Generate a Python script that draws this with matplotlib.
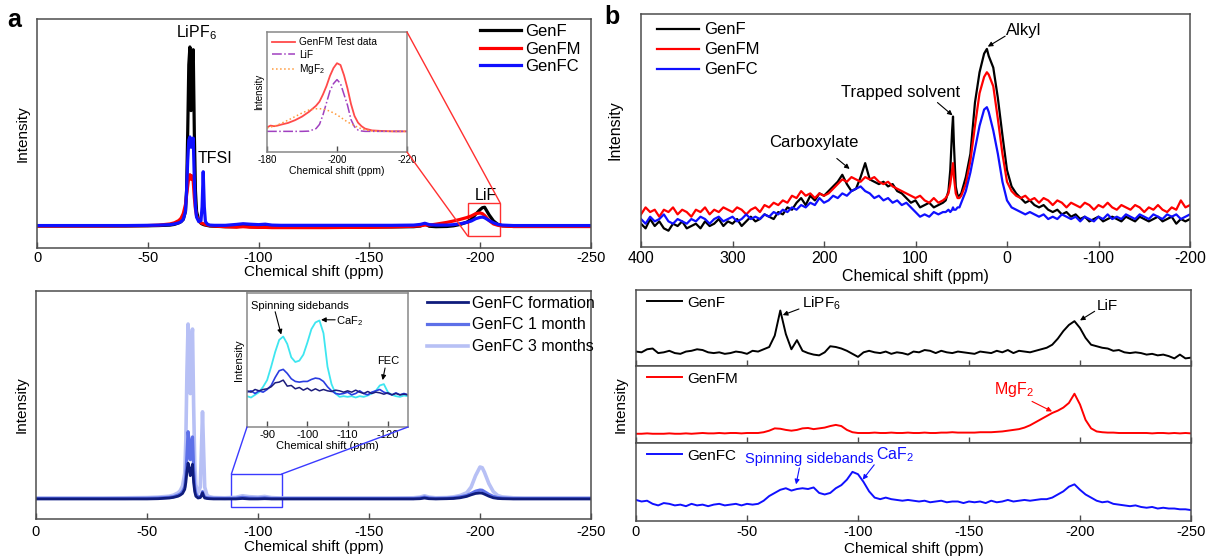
import matplotlib.pyplot as plt
import numpy as np
from matplotlib.patches import Rectangle, ConnectionPatch

plt.rcParams['font.family'] = ['Liberation Sans', 'DejaVu Sans']
plt.rcParams['mathtext.default'] = 'regular'

frame = '#4d4d4d'
red = '#ff0000'
blue = '#1010ff'

# ---------------- panel a, top: 19F spectra (intensity in % of axis height)
shift_a = [0, -10, -20, -30, -40, -50, -55, -60, -62, -64,
           -65, -66, -67, -67.5, -68, -68.5, -69, -69.5, -70, -70.5,
           -71, -71.5, -72, -73, -74, -74.5, -75, -75.5, -76, -77,
           -78, -80, -85, -90, -93, -96, -100, -103, -106, -110,
           -120, -130, -140, -150, -160, -170, -173, -175, -177, -180,
           -185, -188, -191, -194, -196, -198, -200, -201, -202, -204,
           -206, -208, -210, -215, -220, -230, -240, -250]
genf_a = [9.6, 9.6, 9.6, 9.6, 9.6, 9.7, 9.8, 10, 10.3, 11,
          11.5, 12.5, 16, 25, 50, 80, 87.8, 60, 80, 86.6,
          50, 25, 16, 12, 10.8, 10.5, 10.3, 10.1, 10, 9.8,
          9.6, 9.5, 9.3, 9.3, 9.6, 9.3, 9.2, 9.3, 9.2, 9.2,
          9.2, 9.2, 9.2, 9.2, 9.2, 9.3, 9.6, 10.6, 9.5, 9.3,
          9.4, 9.7, 10.3, 11.3, 12.5, 14.8, 16.8, 17.6, 17.8, 14.5,
          11.8, 10.3, 9.7, 9.4, 9.4, 9.4, 9.4, 9.4]
genfm_a = [9.6, 9.6, 9.6, 9.6, 9.7, 9.8, 10, 10.5, 11, 12,
           13, 15, 19, 23, 27, 31, 32, 30, 31.5, 29,
           22, 17, 14, 12, 11, 10.8, 10.6, 10.4, 10.2, 10,
           9.8, 9.6, 9.3, 9.1, 9.3, 9.1, 9.0, 9.0, 8.9, 8.9,
           8.9, 8.9, 9.0, 9.0, 9.2, 9.5, 9.7, 10.0, 10.0, 10.4,
           11.2, 11.8, 12.5, 13.3, 14.0, 15.0, 15.3, 15.0, 14.2, 12.0,
           10.5, 9.9, 9.6, 9.4, 9.4, 9.4, 9.4, 9.4]
genfc_a = [9.8, 9.8, 9.8, 9.8, 9.8, 9.9, 10, 10.2, 10.5, 11,
           11.5, 12.5, 16, 25, 38, 47, 48.5, 44, 46, 48,
           30, 18, 13.5, 11.5, 12, 18, 33.3, 18, 11.5, 10.3,
           10, 9.9, 9.9, 10.3, 10.6, 10.4, 10.2, 10.4, 10.0, 9.9,
           9.9, 9.9, 9.9, 9.9, 9.9, 10.0, 10.3, 10.8, 10.2, 10.0,
           10.0, 10.2, 10.6, 11.2, 11.8, 12.8, 13.4, 13.5, 13.2, 12.0,
           11.0, 10.3, 10.0, 9.8, 9.8, 9.8, 9.8, 9.8]

# inset: fit of the GenFM LiF region
shift_fit = [-180, -181, -182, -183, -184, -186, -188, -190, -192, -194,
             -195, -196, -197, -198, -199, -200, -201, -202, -203, -204,
             -205, -206, -207, -208, -210, -213, -216, -220]
test_fit = [20.5, 22, 21.5, 22, 22.8, 24.2, 26.5, 29.5, 33.5, 38.5,
            42, 48, 55, 63.5, 70, 74, 72.5, 64, 53, 40,
            30, 24.5, 21.5, 19.5, 18, 17.5, 17.2, 17.2]
lif_fit = [17.2, 17.2, 17.2, 17.2, 17.2, 17.2, 17.2, 17.2, 17.4, 19.5,
           23, 31, 41, 51, 57, 60.3, 57, 48, 39, 27,
           21, 18.3, 17.5, 17.2, 17.2, 17.2, 17.2, 17.2]
mgf_fit = [20, 20.8, 21.5, 22.5, 23.8, 26.5, 29.5, 32.5, 35, 36,
           36.1, 35.8, 35, 34, 32.5, 31, 29, 27, 25, 23.5,
           22, 20.5, 19.3, 18.5, 17.5, 17.2, 17.2, 17.2]

# ---------------- panel a, bottom: GenFC ageing
form_c = [8.8, 8.8, 8.8, 8.8, 8.8, 8.8, 8.9, 9.2, 9.5, 10,
          10.5, 11.2, 13, 16, 21, 24.5, 22, 19, 22, 24,
          16, 12, 10, 9.2, 9.4, 10.2, 11.5, 10, 9.2, 9,
          8.9, 8.8, 8.8, 8.8, 9.0, 8.8, 8.8, 8.9, 8.8, 8.8,
          8.8, 8.8, 8.8, 8.8, 8.8, 8.8, 8.9, 9.2, 8.9, 8.8,
          8.9, 9.0, 9.3, 9.9, 10.6, 11.2, 11.4, 11.3, 10.9, 10.0,
          9.3, 9.0, 8.9, 8.8, 8.8, 8.8, 8.8, 8.8]
month1_c = [9.0, 9.0, 9.0, 9.0, 9.0, 9.1, 9.2, 9.5, 9.8, 10.5,
            11, 12, 14, 19, 28, 38.3, 34, 26, 33, 36,
            22, 14, 11, 9.8, 9.8, 10.5, 12, 10.5, 9.6, 9.3,
            9.2, 9.1, 9.0, 9.1, 9.5, 9.2, 9.1, 9.3, 9.0, 9.0,
            9.0, 9.0, 9.0, 9.0, 9.0, 9.0, 9.2, 9.6, 9.2, 9.0,
            9.1, 9.3, 9.7, 10.3, 11.2, 12.2, 12.7, 12.6, 12.0, 10.8,
            9.9, 9.4, 9.2, 9.0, 9.0, 9.0, 9.0, 9.0]
month3_c = [9.2, 9.2, 9.2, 9.2, 9.3, 9.4, 9.6, 10, 10.5, 11.5,
            12.5, 14.5, 20, 35, 65, 85.5, 75, 55, 78, 83.3,
            50, 25, 15, 11.5, 14, 30, 47, 30, 14, 10.5,
            9.8, 9.4, 9.3, 9.5, 10.2, 9.8, 9.6, 9.9, 9.4, 9.2,
            9.2, 9.2, 9.2, 9.2, 9.2, 9.3, 9.6, 10.2, 9.6, 9.3,
            9.4, 9.7, 10.3, 11.5, 14, 19, 22.8, 22.5, 20.5, 15.5,
            12, 10.3, 9.7, 9.3, 9.2, 9.2, 9.2, 9.2]

# inset: -85 ... -125 ppm zoom
shift_zoom = list(range(-85, -126, -1))
zoom_3m = [23, 22, 24, 26, 30, 35, 45, 56, 65, 67.5,
           62, 52, 48.5, 49.5, 54, 63, 73, 78, 79.5, 70,
           45, 32, 25, 22.5, 23, 22.5, 23, 22, 23, 22.5,
           23.5, 25, 27, 31, 32, 26, 24, 23, 22.5, 23.5,
           23]
zoom_1m = [26, 27, 25, 27, 26, 28, 31, 37, 42, 43,
           40, 36, 34, 33.5, 34, 34, 35.5, 36.5, 36, 34,
           30, 27, 25, 24.5, 25, 26, 24, 25, 27, 25,
           24, 26, 27, 28, 26, 25, 24, 25.5, 24, 25,
           24]
zoom_form = [27, 26, 28, 27, 28, 28.5, 30, 33, 33.5, 35,
             30.5, 31, 28.5, 29.5, 27.5, 29, 27, 28.5, 27, 28,
             27, 26.5, 27.5, 27, 26, 27, 26, 27.5, 26, 25,
             26.5, 25, 26, 25.5, 24.5, 25.5, 24, 25, 24, 24.5,
             24]

# ---------------- panel b, top: 13C spectra
shift_b = (list(range(400, 69, -5)) + [67, 64, 62, 60, 59, 58, 56, 54, 52]
           + [50, 45, 40, 35, 30, 25, 22] + list(range(20, -201, -5)))
genf_b = [10, 8, 12, 9, 11, 8, 7, 10, 9, 11,
          8, 9, 10, 8, 11, 9, 10, 12, 9, 11,
          10, 12, 9, 11, 13, 11, 12, 14, 13, 12,
          15, 14, 17, 16, 19, 21, 18, 22, 20, 23,
          22, 24, 26, 28, 31, 27, 24, 25, 30, 36,
          29, 28, 27, 28, 26, 27, 24, 23, 21, 19,
          20, 17, 18, 19, 17, 18, 19,
          20, 24, 33, 50, 56, 44, 26, 22, 22,
          23, 30, 40, 62, 75, 83, 85,
          82, 77, 64, 48, 33, 26, 23, 21, 19, 20,
          18, 17, 18, 16, 15, 16, 14, 15, 13, 14,
          12, 13, 11, 12, 13, 11, 12, 13, 12, 11,
          13, 12, 11, 13, 12, 11, 12, 13, 11, 12,
          13, 10, 12, 11, 12]
genfm_b = [14, 17, 15, 16, 13, 16, 15, 17, 14, 16,
           15, 13, 16, 15, 17, 14, 16, 15, 17, 16,
           15, 17, 16, 14, 16, 17, 15, 18, 17, 19,
           18, 20, 19, 22, 21, 24, 22, 23, 21, 23,
           22, 23, 25, 27, 29, 28, 30, 29, 28, 30,
           29, 30, 28, 27, 28, 26, 25, 24, 23, 22,
           21, 22, 20, 19, 21, 19, 20,
           21, 23, 27, 33, 36, 30, 23, 21, 21,
           22, 27, 37, 52, 66, 73, 75,
           74, 69, 55, 40, 28, 24, 22, 21, 22, 20,
           21, 19, 21, 20, 18, 20, 19, 17, 19, 18,
           17, 19, 18, 16, 18, 17, 19, 17, 16, 18,
           17, 16, 18, 17, 15, 17, 16, 18, 16, 15,
           17, 16, 20, 17, 18]
genfc_b = [12, 10, 13, 11, 12, 14, 11, 10, 12, 11,
           10, 12, 11, 13, 12, 10, 12, 13, 11, 12,
           13, 11, 12, 14, 12, 13, 12, 14, 13, 15,
           14, 16, 15, 17, 16, 18, 17, 19, 18, 21,
           19, 20, 22, 21, 23, 22, 24, 25, 26, 24,
           23, 21, 22, 20, 21, 19, 20, 18, 19, 17,
           15, 13, 14, 13, 15, 14, 15,
           15, 16, 15, 16, 17, 16, 16, 17, 17,
           19, 24, 32, 42, 52, 59, 60,
           58, 50, 40, 28, 20, 17, 16, 15, 14, 15,
           14, 13, 14, 12, 13, 12, 14, 13, 12, 13,
           11, 13, 12, 11, 13, 12, 14, 12, 13, 12,
           14, 13, 12, 14, 13, 12, 14, 13, 12, 14,
           13, 14, 12, 13, 14]

# ---------------- panel b, bottom: stacked 19F spectra (0 ... -250 ppm, 2.5 ppm step)
shift_d = np.arange(0, -250.1, -2.5)
genf_d = [19, 18, 22, 23, 17, 18, 20, 17, 16, 19,
          20, 22, 21, 18, 17, 18, 16, 17, 19, 18,
          16, 20, 19, 22, 25, 40, 73, 42, 22, 34,
          20, 17, 15, 14, 18, 26, 25, 23, 20, 16,
          12, 18, 20, 18, 17, 19, 16, 18, 17, 15,
          19, 18, 21, 20, 17, 20, 18, 17, 19, 18,
          17, 16, 19, 18, 17, 20, 18, 21, 17, 20,
          19, 18, 20, 22, 24, 28, 36, 46, 54, 59,
          50, 37, 28, 26, 24, 23, 20, 21, 18, 17,
          18, 17, 15, 16, 14, 15, 13, 10, 15, 10,
          11]
genfm_d = [12, 12, 12.5, 12, 12, 12, 12.5, 12, 12, 12.5,
           12, 12.5, 13, 12.5, 12.5, 13, 12.5, 13, 13, 12.5,
           13, 13, 13, 14, 16, 19, 18.5, 17, 16, 17,
           19, 19.5, 18, 19, 20, 22, 23.5, 22, 17, 14,
           13, 13, 13, 13.5, 13, 13, 13.5, 13, 13, 13.5,
           13, 13, 13.5, 13, 13, 13.5, 13.5, 14, 13.5, 13.5,
           13.5, 13.5, 14, 14, 14, 14.5, 15, 16, 17, 18,
           20, 23, 27, 31, 35, 39, 42, 46, 52, 64,
           50, 30, 19, 15, 14, 13.5, 13.5, 13, 13, 13,
           13, 13, 13, 12.5, 13, 13, 12.5, 13, 12.5, 13,
           12.5]
genfc_d = [27, 25, 26, 22, 20, 23, 22, 20, 21, 19,
           22, 20, 21, 19, 21, 22, 20, 21, 22, 20,
           22, 21, 22, 26, 32, 36, 40, 42, 39, 41,
           42, 41, 43, 36, 34, 36, 42, 46, 53, 63,
           60, 50, 38, 30, 28, 30, 28, 27, 26, 27,
           26, 25, 26, 24, 25, 26, 24, 25, 25, 23,
           25, 24, 25, 23, 26, 24, 25, 27, 25, 26,
           27, 26, 27, 28, 28, 30, 34, 38, 44, 47,
           40, 34, 30, 26, 24, 25, 22, 21, 20, 19,
           20, 18, 17, 18, 16, 17, 16, 16, 15, 15,
           14]

W, H = 1207, 558
fig = plt.figure(figsize=(W / 100, H / 100), dpi=100)


def box(l, t, r, b):
    return [l / W, 1 - b / H, (r - l) / W, (b - t) / H]


def style(ax, lim, ticks, labels=True, size=10.5, pad=2.5):
    ax.set_xlim(*lim)
    ax.set_ylim(0, 1)
    ax.set_xticks(ticks)
    ax.set_xticklabels([str(t) for t in ticks] if labels else [])
    ax.set_yticks([])
    ax.tick_params(axis='x', direction='in', length=4, width=1, color=frame,
                   labelsize=size, pad=pad)
    for s in ax.spines.values():
        s.set_color(frame)
        s.set_linewidth(1.1)


def pct(v):
    return np.array(v) / 100.0


def arrow(ax, tail, head, color='black'):
    ax.annotate('', xy=head, xytext=tail,
                arrowprops=dict(arrowstyle='-|>', color=color, lw=0.8,
                                mutation_scale=7, shrinkA=0, shrinkB=0))


ticks_a = [0, -50, -100, -150, -200, -250]

# ===== a top
ax1 = fig.add_axes(box(37, 19, 591, 248))
ax1.plot(shift_a, pct(genf_a), color='black', lw=2.3, label='GenF')
ax1.plot(shift_a, pct(genfm_a), color=red, lw=2.3, label='GenFM')
ax1.plot(shift_a, pct(genfc_a), color=blue, lw=2.3, label='GenFC')
style(ax1, (0, -250), ticks_a, size=10.5, pad=2)
ax1.set_xlabel('Chemical shift (ppm)', fontsize=11, labelpad=0)
ax1.set_ylabel('Intensity', fontsize=11, labelpad=5)
ax1.legend(loc='upper left', bbox_to_anchor=(0.79, 1.0), frameon=False,
           fontsize=12, handlelength=2.5, handletextpad=0.25,
           labelspacing=0.15, borderaxespad=0, borderpad=0.3)
ax1.text(-71.8, 0.94, 'LiPF$_6$', fontsize=11.5, ha='center', va='center')
ax1.text(-80.2, 0.39, 'TFSI', fontsize=11.5, ha='center', va='center')
ax1.text(-202.4, 0.23, 'LiF', fontsize=11.5, ha='center', va='center')
ax1.add_patch(Rectangle((-194.4, 0.052), -14.6, 0.145, fill=False,
                        ec='#ff3030', lw=1))

ins1 = fig.add_axes(box(267, 32, 407, 152))
ins1.plot(shift_fit, pct(test_fit), color='#ff4a4a', lw=1.3, label='GenFM Test data')
ins1.plot(shift_fit, pct(lif_fit), color='#a040c0', lw=1.1, ls='-.', label='LiF')
ins1.plot(shift_fit, pct(mgf_fit), color='#ff9a3c', lw=1.1, ls=':', label='MgF$_2$')
style(ins1, (-180, -220), [-180, -200, -220], size=7, pad=2)
for s in ins1.spines.values():
    s.set_color('#888888')
ins1.set_xlabel('Chemical shift (ppm)', fontsize=7.5, labelpad=1)
ins1.set_ylabel('Intensity', fontsize=7, labelpad=2)
ins1.legend(loc='upper left', bbox_to_anchor=(0.0, 1.0), frameon=False,
            fontsize=7.3, handlelength=2.3, handletextpad=0.4,
            labelspacing=0.25, borderaxespad=0.2, borderpad=0.3)

for xa, xb in [((1, 1), (-209, 0.197)), ((1, 0), (-194.4, 0.052))]:
    fig.add_artist(ConnectionPatch(xyA=xa, coordsA=ins1.transAxes,
                                   xyB=xb, coordsB=ax1.transData,
                                   color='#ff3030', lw=1))

# ===== a bottom
c_form, c_1m, c_3m = '#0f1c7c', '#5d70e8', '#b7c0f5'
ax2 = fig.add_axes(box(36, 291, 591, 519))
l3, = ax2.plot(shift_a, pct(month3_c), color=c_3m, lw=2.6, label='GenFC 3 months')
l2, = ax2.plot(shift_a, pct(month1_c), color=c_1m, lw=2.3, label='GenFC 1 month')
l1, = ax2.plot(shift_a, pct(form_c), color=c_form, lw=2.0, label='GenFC formation')
style(ax2, (0, -250), ticks_a, size=10.5, pad=4)
ax2.set_xlabel('Chemical shift (ppm)', fontsize=11, labelpad=1)
ax2.set_ylabel('Intensity', fontsize=11, labelpad=5)
ax2.legend(handles=[l1, l2, l3], loc='upper left', bbox_to_anchor=(0.695, 1.0),
           frameon=False, fontsize=11.5, handlelength=2.6, handletextpad=0.25,
           labelspacing=0.42, borderaxespad=0, borderpad=0.3)
ax2.add_patch(Rectangle((-88, 0.053), -22.6, 0.144, fill=False,
                        ec='#3a3aff', lw=1))

ins2 = fig.add_axes(box(247, 293, 408, 427))
ins2.plot(shift_zoom, pct(zoom_3m), color='#3ee6f0', lw=1.3)
ins2.plot(shift_zoom, pct(zoom_1m), color='#2a3de0', lw=1.2)
ins2.plot(shift_zoom, pct(zoom_form), color='#1c1c7c', lw=1.1)
style(ins2, (-85, -125), [-90, -100, -110, -120], size=8, pad=2)
for s in ins2.spines.values():
    s.set_color('#888888')
ins2.set_xlabel('Chemical shift (ppm)', fontsize=8, labelpad=1)
ins2.set_ylabel('Intensity', fontsize=8, labelpad=2)
ins2.text(-85.9, 0.9, 'Spinning sidebands', fontsize=8, ha='left', va='center')
arrow(ins2, (-92.0, 0.86), (-93.5, 0.69))
ins2.text(-107.2, 0.79, 'CaF$_2$', fontsize=8, ha='left', va='center')
arrow(ins2, (-106.9, 0.8), (-103.4, 0.8))
ins2.text(-120, 0.49, 'FEC', fontsize=8, ha='center', va='center')
arrow(ins2, (-119.3, 0.44), (-118.7, 0.35))

for xa, xb in [((0, 0), (-88, 0.197)), ((1, 0), (-110.6, 0.197))]:
    fig.add_artist(ConnectionPatch(xyA=xa, coordsA=ins2.transAxes,
                                   xyB=xb, coordsB=ax2.transData,
                                   color='#3a3aff', lw=1))

# ===== b top
ax3 = fig.add_axes(box(641, 14, 1190, 247))
ax3.plot(shift_b, pct(genf_b), color='black', lw=1.6, label='GenF')
ax3.plot(shift_b, pct(genfm_b), color=red, lw=1.6, label='GenFM')
ax3.plot(shift_b, pct(genfc_b), color=blue, lw=1.6, label='GenFC')
style(ax3, (400, -200), [400, 300, 200, 100, 0, -100, -200], size=11.5, pad=3)
ax3.set_xlabel('Chemical shift (ppm)', fontsize=11.5, labelpad=2)
ax3.set_ylabel('Intensity', fontsize=11.5, labelpad=13)
ax3.legend(loc='upper left', bbox_to_anchor=(0.02, 0.985), frameon=False,
           fontsize=12, handlelength=2.5, handletextpad=0.3,
           labelspacing=0.3, borderaxespad=0, borderpad=0.3)
ax3.text(-18, 0.93, 'Alkyl', fontsize=12, ha='center', va='center')
arrow(ax3, (2, 0.905), (21, 0.86))
ax3.text(116, 0.665, 'Trapped solvent', fontsize=12, ha='center', va='center')
arrow(ax3, (76, 0.62), (59.5, 0.565))
ax3.text(211, 0.45, 'Carboxylate', fontsize=12, ha='center', va='center')
arrow(ax3, (186, 0.38), (172, 0.335))

# ===== b bottom (stacked)
rows = [(290, 366, genf_d, 'black', 'GenF'),
        (366, 443, genfm_d, red, 'GenFM'),
        (443, 521, genfc_d, blue, 'GenFC')]
panels = []
for i, (top, bot, vals, col, name) in enumerate(rows):
    ax = fig.add_axes(box(636, top, 1191, bot))
    ax.plot(shift_d, pct(vals), color=col, lw=1.4, label=name)
    style(ax, (0, -250), ticks_a, labels=(i == 2), size=10.5, pad=3)
    ax.legend(loc='upper left', bbox_to_anchor=(0.012, 0.985), frameon=False,
              fontsize=11, handlelength=2.3, handletextpad=0.3,
              borderaxespad=0, borderpad=0.3)
    panels.append(ax)
pf, pm, pc = panels
pc.set_xlabel('Chemical shift (ppm)', fontsize=11, labelpad=2)
fig.text(621 / W, 1 - 405 / H, 'Intensity', rotation=90, fontsize=11,
         ha='center', va='center')

pf.text(-74.6, 0.82, 'LiPF$_6$', fontsize=11, ha='left', va='center')
arrow(pf, (-73.4, 0.75), (-66.1, 0.67))
pf.text(-207.7, 0.79, 'LiF', fontsize=11, ha='left', va='center')
arrow(pf, (-206.6, 0.72), (-200, 0.6))
pm.text(-161.1, 0.69, 'MgF$_2$', fontsize=11.5, color=red, ha='left', va='center')
arrow(pm, (-178.4, 0.54), (-187.4, 0.41), color=red)
pc.text(-49.2, 0.8, 'Spinning sidebands', fontsize=10.5, color=blue,
        ha='left', va='center')
arrow(pc, (-73.6, 0.68), (-72.1, 0.47), color=blue)
pc.text(-108, 0.85, 'CaF$_2$', fontsize=11.5, color=blue, ha='left', va='center')
arrow(pc, (-107.3, 0.72), (-102.1, 0.53), color=blue)

fig.text(14 / W, 1 - 20 / H, 'a', fontsize=18, fontweight='bold',
         ha='center', va='center')
fig.text(612 / W, 1 - 17 / H, 'b', fontsize=18, fontweight='bold',
         ha='center', va='center')

fig.savefig('out.png', dpi=100)
